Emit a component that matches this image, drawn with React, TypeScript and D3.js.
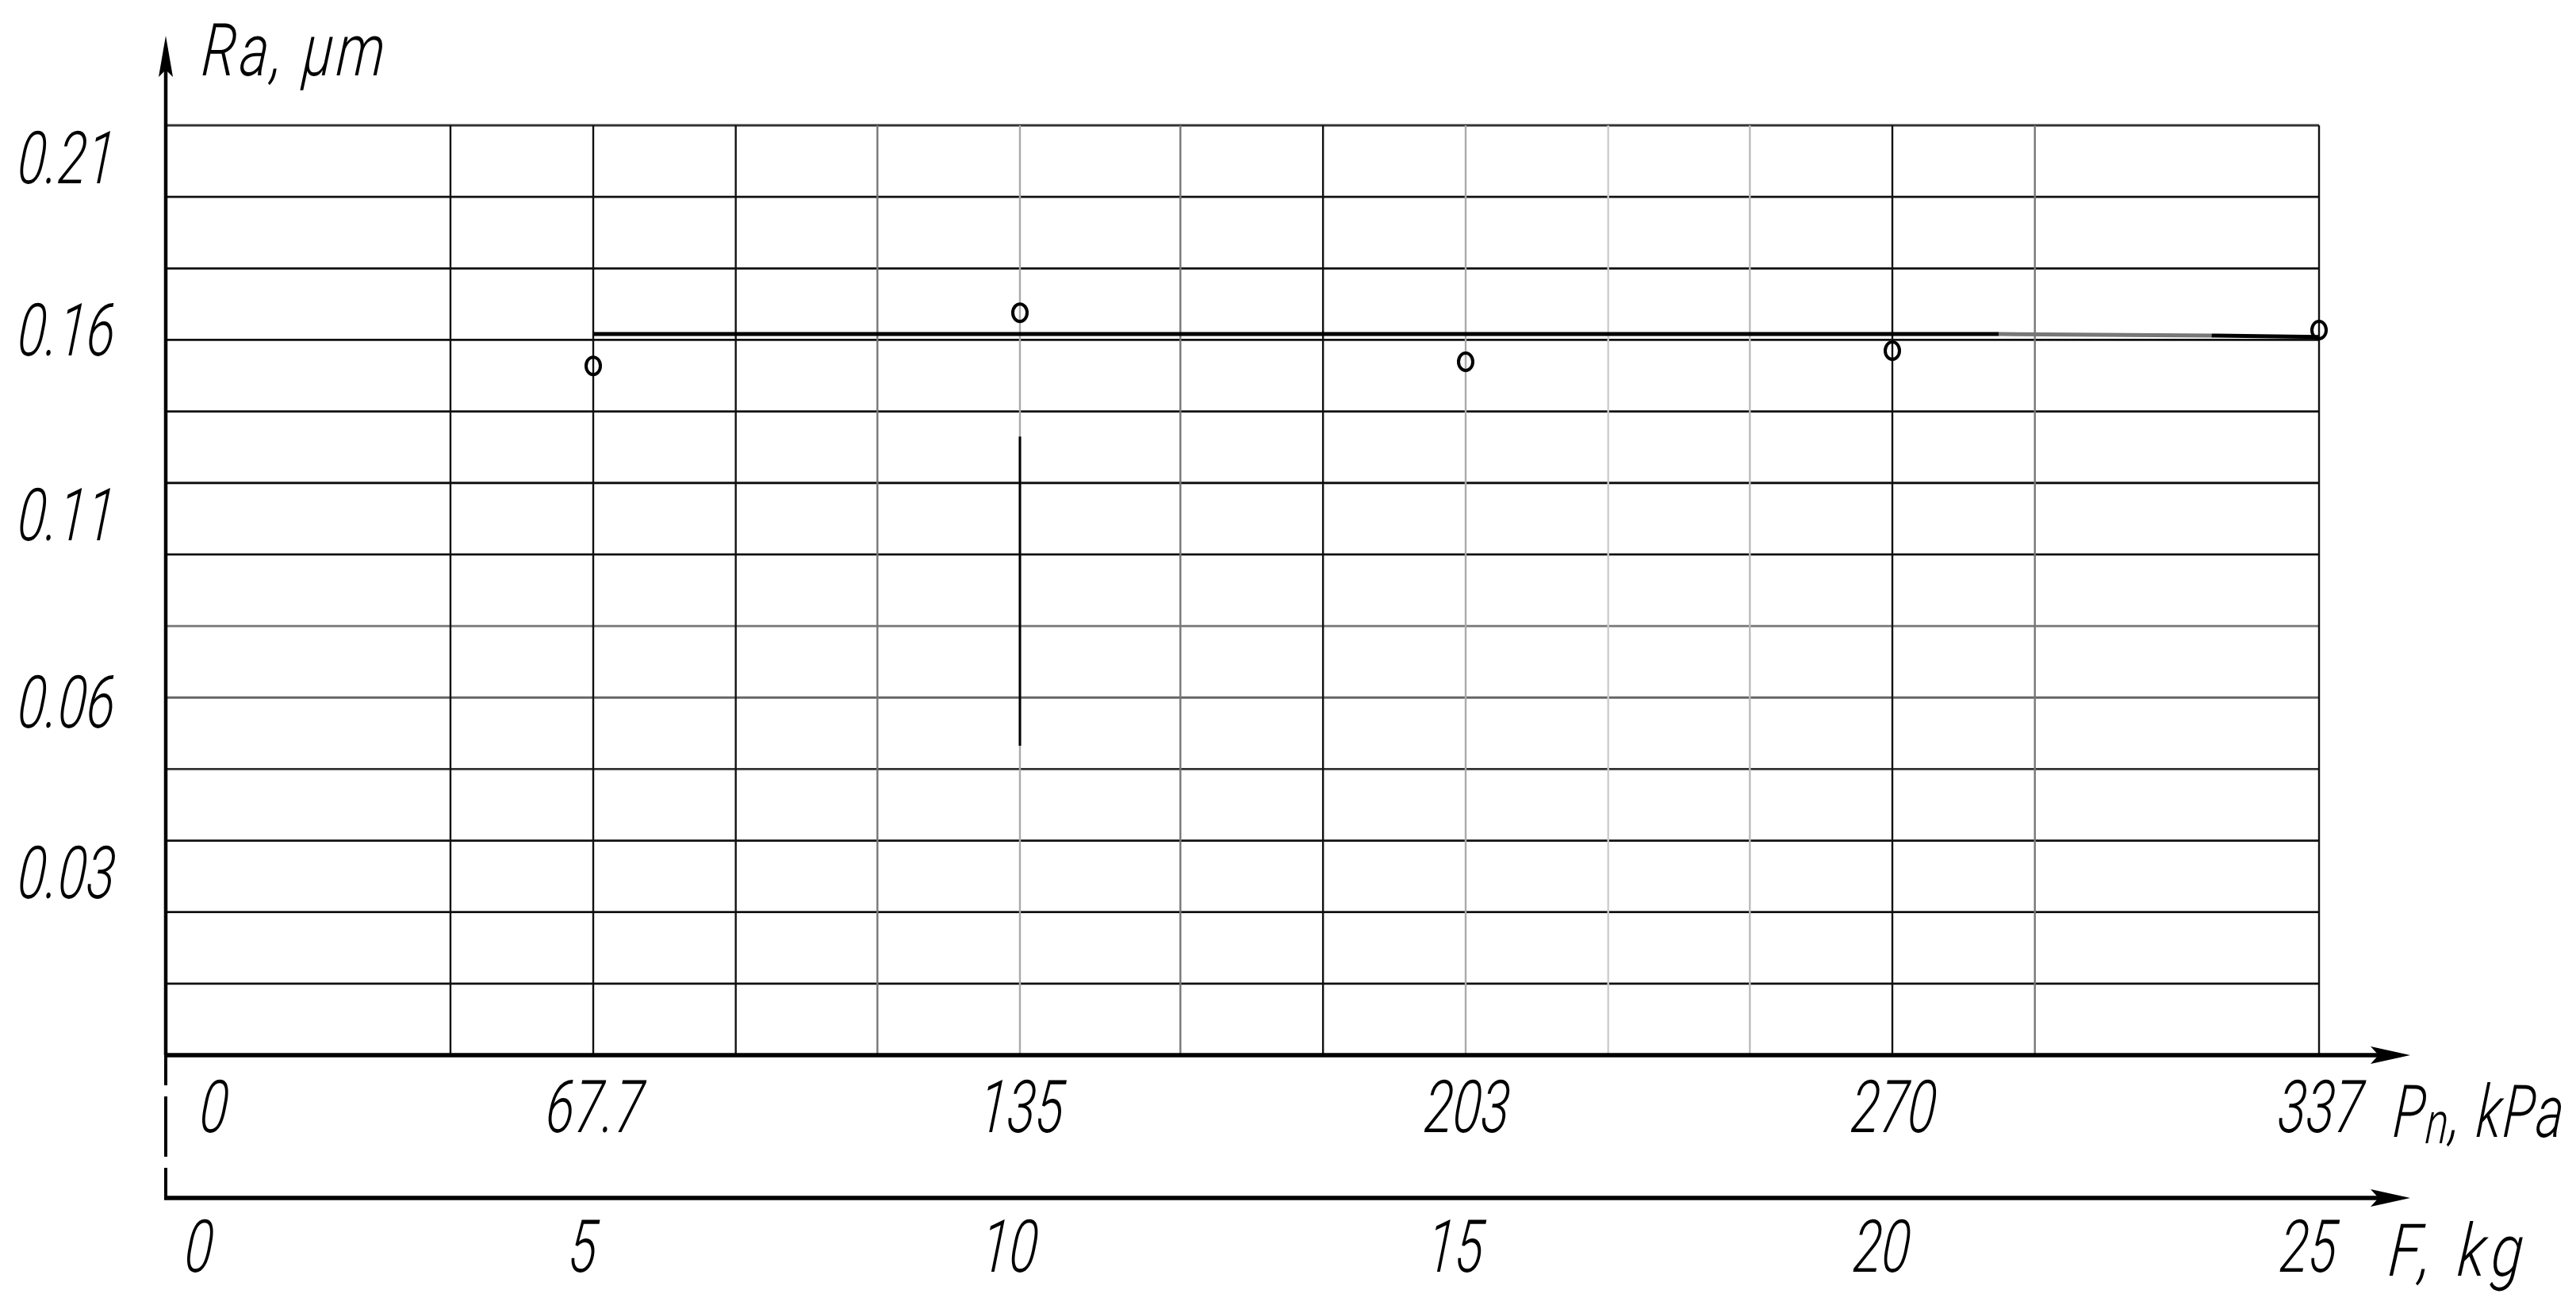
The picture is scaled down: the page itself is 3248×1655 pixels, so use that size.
import React from "react";
import * as d3 from "d3";

const W = 3248;
const H = 1655;

// axis ticks (F in kg, Pn in kPa share the same positions)
const forceTicks = [0, 5, 10, 15, 20, 25];
const pressureLabels = ["0", "67.7", "135", "203", "270", "337"];
const raTicks = [0.21, 0.16, 0.11, 0.06, 0.03];

// measured roughness
const forcePoints = [5, 10, 15, 20, 25];
const raPoints = [0.1501, 0.1648, 0.1512, 0.1542, 0.1598];

// approximation line, drawn in pieces
const trendForce = [5, 21.25, 23.74, 25];
const trendRa = [0.1587, 0.1587, 0.1583, 0.1579];

// drawing grid
const gridForce = [3.33, 5, 6.67, 8.33, 10, 11.8, 13.4, 15, 16.67, 18.33, 20, 21.67, 25];
const gridRows = 13;
const stemForce = 10;
const stemRa = [0.131, 0.0522];

// styles
const gridForceColor = ["#111", "#111", "#111", "#777", "#aaa", "#777", "#111", "#aaa", "#ccc", "#bbb", "#111", "#777", "#111"];
const gridRowColor = ["#111", "#111", "#111", "#333", "#666", "#777", "#111", "#111", "#111", "#111", "#111", "#111", "#333"];
const trendColor = ["#000", "#777", "#000"];
const font = "Roboto, 'DejaVu Sans Condensed', sans-serif";

// narrow italic drafting-style text
const Label = ({
  x,
  y,
  anchor = "start",
  sx = 0.72,
  spacing = 0,
  children,
}: {
  x: number;
  y: number;
  anchor?: string;
  sx?: number;
  spacing?: number;
  children: React.ReactNode;
}) => (
  <g transform={`translate(${x},${y}) scale(${sx},1) skewX(-6)`}>
    <text
      x={0}
      y={0}
      textAnchor={anchor}
      style={{ fontFamily: font, fontStyle: "italic", fontWeight: 300, fontSize: 92, fill: "#000", letterSpacing: spacing }}
    >
      {children}
    </text>
  </g>
);

export default function App() {
  const x = d3.scaleLinear().domain(forceTicks).range([209, 748, 1286, 1848, 2386, 2924]);
  const y = d3.scaleLinear().domain([0, 0.03, 0.06, 0.11, 0.16, 0.21]).range([1330, 1099, 884, 648, 415, 198]);
  const row = d3.scaleLinear().domain([0, gridRows]).range([1330, 158]);

  const axisY = 1330;
  const axis2Y = 1510;
  const left = x(0);
  const right = x(25);
  const arrowX = 3039;

  return (
    <svg
      width={W}
      height={H}
      viewBox={`0 0 ${W} ${H}`}
      style={{ position: "absolute", left: 0, top: 0, background: "#fff", display: "block" }}
    >
      <rect width={W} height={H} fill="#fff" />

      {/* horizontal grid */}
      {d3.range(1, gridRows + 1).map((r, i) => (
        <line key={"h" + r} x1={left} x2={right} y1={row(r)} y2={row(r)} stroke={gridRowColor[i]} strokeWidth={2.8} />
      ))}

      {/* vertical grid */}
      {gridForce.map((f, i) => (
        <line key={"v" + i} x1={x(f)} x2={x(f)} y1={row(gridRows)} y2={axisY} stroke={gridForceColor[i]} strokeWidth={2.4} />
      ))}
      <line x1={x(stemForce)} x2={x(stemForce)} y1={y(stemRa[0])} y2={y(stemRa[1])} stroke="#000" strokeWidth={3} />

      {/* trend line */}
      {trendColor.map((c, i) => (
        <line
          key={"t" + i}
          x1={x(trendForce[i])}
          x2={x(trendForce[i + 1])}
          y1={y(trendRa[i])}
          y2={y(trendRa[i + 1])}
          stroke={c}
          strokeWidth={5}
        />
      ))}

      {/* points */}
      {forcePoints.map((f, i) => (
        <ellipse key={"p" + i} cx={x(f)} cy={y(raPoints[i])} rx={9} ry={11} fill="none" stroke="#000" strokeWidth={4} />
      ))}

      {/* y axis */}
      <line x1={left} x2={left} y1={60} y2={axisY} stroke="#000" strokeWidth={4.5} />
      <line x1={left} x2={left} y1={axisY} y2={axis2Y} stroke="#000" strokeWidth={4} strokeDasharray="38 14 76 14 60" />
      <path d={`M${left},45 L${left - 9},97 L${left},88 L${left + 9},97 Z`} fill="#000" />

      {/* x axes */}
      {[axisY, axis2Y].map((ay) => (
        <g key={"ax" + ay}>
          <line x1={left - 2} x2={arrowX - 20} y1={ay} y2={ay} stroke="#000" strokeWidth={5.5} />
          <path d={`M${arrowX},${ay} L${arrowX - 50},${ay - 11} L${arrowX - 40},${ay} L${arrowX - 50},${ay + 11} Z`} fill="#000" />
        </g>
      ))}

      {/* y tick labels */}
      {raTicks.map((v) => (
        <Label key={"yl" + v} x={82} y={y(v) + 33} anchor="middle">
          {v.toFixed(2)}
        </Label>
      ))}

      {/* x tick labels */}
      {forceTicks.map((f, i) => (
        <Label key={"pl" + f} x={f === 0 ? x(f) + 59 : x(f)} y={1427} anchor="middle">
          {pressureLabels[i]}
        </Label>
      ))}
      {forceTicks.map((f) => (
        <Label key={"fl" + f} x={f === 0 ? x(f) + 40 : x(f) - 15} y={1603} anchor="middle">
          {f}
        </Label>
      ))}

      {/* axis titles */}
      <Label x={253} y={95} sx={0.76} spacing={6}>
        Ra, μm
      </Label>
      <Label x={3016} y={1433} sx={0.72} spacing={3}>
        P<tspan dy={8} fontSize={74}>n</tspan>
        <tspan dy={-8}>, kPa</tspan>
      </Label>
      <Label x={3010} y={1608} sx={0.8} spacing={10}>
        F, kg
      </Label>
    </svg>
  );
}
